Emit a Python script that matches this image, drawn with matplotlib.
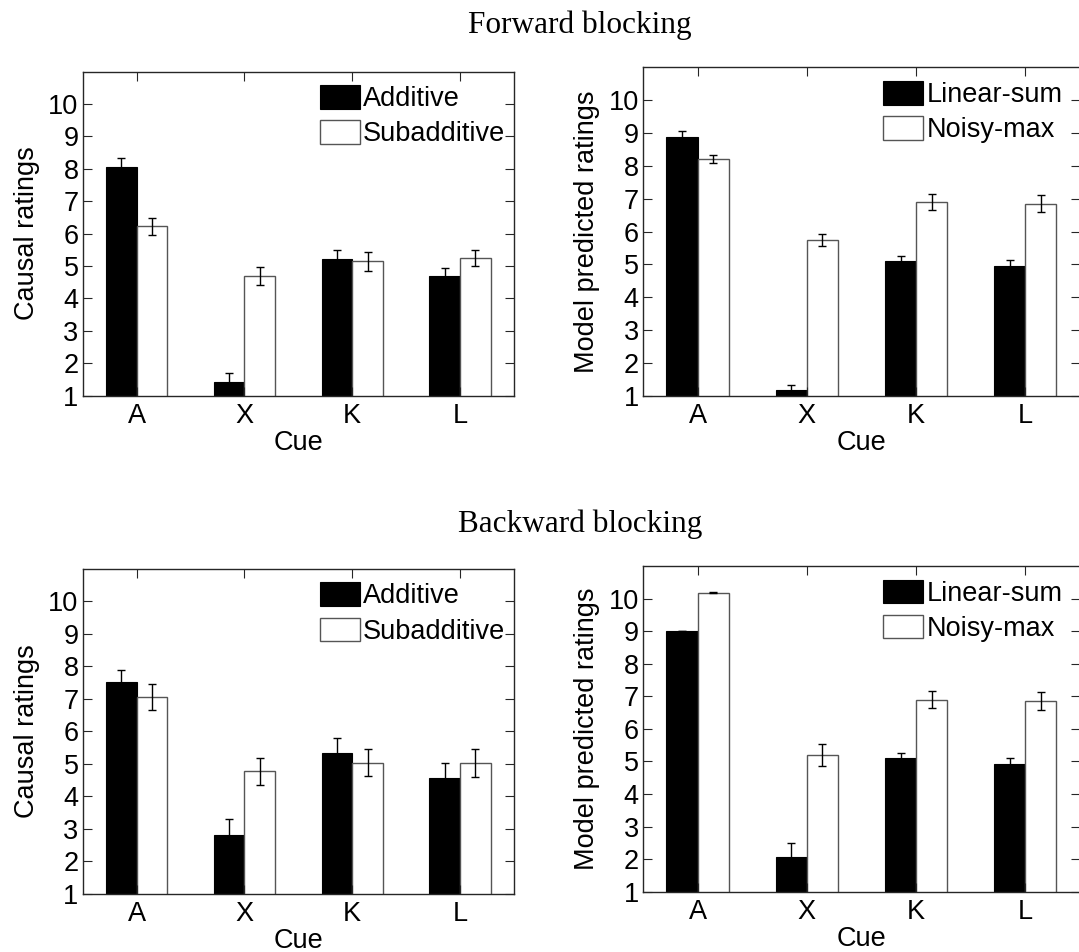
import numpy as np
import matplotlib
matplotlib.use("Agg")
import matplotlib.pyplot as plt

plt.rcParams['font.family'] = ['Liberation Sans', 'DejaVu Sans']

cues = ['A', 'X', 'K', 'L']

# forward blocking: human causal ratings
fwd_add = [8.05, 1.43, 5.23, 4.68]
fwd_add_err = [0.28, 0.28, 0.25, 0.25]
fwd_sub = [6.22, 4.70, 5.14, 5.25]
fwd_sub_err = [0.25, 0.28, 0.28, 0.25]

# forward blocking: model predictions
fwd_lin = [8.88, 1.16, 5.09, 4.94]
fwd_lin_err = [0.19, 0.18, 0.17, 0.19]
fwd_nmax = [8.20, 5.74, 6.90, 6.85]
fwd_nmax_err = [0.12, 0.18, 0.25, 0.27]

# backward blocking: human causal ratings
bwd_add = [7.51, 2.80, 5.33, 4.56]
bwd_add_err = [0.39, 0.52, 0.46, 0.48]
bwd_sub = [7.07, 4.77, 5.04, 5.04]
bwd_sub_err = [0.40, 0.41, 0.41, 0.43]

# backward blocking: model predictions
bwd_lin = [9.00, 2.06, 5.10, 4.93]
bwd_lin_err = [0.0, 0.43, 0.17, 0.19]
bwd_nmax = [10.18, 5.20, 6.90, 6.85]
bwd_nmax_err = [0.01, 0.34, 0.25, 0.28]

FS = 19.5
AX_COL = '#262626'


def bar_panel(ax, v1, e1, v2, e2, labels, ylabel):
    x = np.arange(1, len(cues) + 1)
    w = 0.285
    ax.bar(x - w / 2, v1, w, color='black', edgecolor='black', linewidth=0.8, label=labels[0])
    ax.bar(x + w / 2, v2, w, color='white', edgecolor='#555555', linewidth=1.0, label=labels[1])
    ekw = dict(fmt='none', ecolor='black', elinewidth=1.0, capsize=2.6, capthick=1.0)
    ax.errorbar(x - w / 2, v1, yerr=e1, **ekw)
    ax.errorbar(x + w / 2, v2, yerr=e2, **ekw)

    ax.set_xlim(0.5, 4.5)
    ax.set_ylim(1, 11)
    ax.set_xticks(x)
    ax.set_xticklabels(cues)
    ax.set_yticks(range(1, 11))
    ax.tick_params(direction='in', length=6.5, width=0.8, color=AX_COL,
                   top=True, right=True, labelsize=FS)
    ax.tick_params(axis='x', pad=5)
    ax.tick_params(axis='y', pad=3)
    for s in ax.spines.values():
        s.set_color(AX_COL)
        s.set_linewidth(1.0)

    ax.set_xlabel('Cue', fontsize=FS)
    ax.set_ylabel(ylabel, fontsize=FS)
    ax.xaxis.label.set_va('center')
    ax.yaxis.label.set_va('center')
    ax.xaxis.set_label_coords(0.5, -0.145)
    ax.yaxis.set_label_coords(-56 / (ax.get_position().width * 1079), 0.5)

    ax.legend(loc='upper left', bbox_to_anchor=(0.55, 0.958), frameon=False,
              fontsize=FS, borderpad=0, borderaxespad=0, handlelength=1.48,
              handleheight=0.96, handletextpad=0.12, labelspacing=0.3)


fig = plt.figure(figsize=(10.79, 9.52), dpi=100)

ax1 = fig.add_axes([0.0766, 0.5845, 0.3998, 0.3403])
ax2 = fig.add_axes([0.5959, 0.5843, 0.405, 0.345])
ax3 = fig.add_axes([0.0766, 0.0609, 0.3998, 0.3417])
ax4 = fig.add_axes([0.5959, 0.0633, 0.405, 0.3421])

bar_panel(ax1, fwd_add, fwd_add_err, fwd_sub, fwd_sub_err,
          ['Additive', 'Subadditive'], 'Causal ratings')
bar_panel(ax2, fwd_lin, fwd_lin_err, fwd_nmax, fwd_nmax_err,
          ['Linear-sum', 'Noisy-max'], 'Model predicted ratings')
bar_panel(ax3, bwd_add, bwd_add_err, bwd_sub, bwd_sub_err,
          ['Additive', 'Subadditive'], 'Causal ratings')
bar_panel(ax4, bwd_lin, bwd_lin_err, bwd_nmax, bwd_nmax_err,
          ['Linear-sum', 'Noisy-max'], 'Model predicted ratings')

fig.text(580 / 1079, 1 - 33 / 952, 'Forward blocking', ha='center', va='baseline',
         family='Liberation Serif', fontsize=22.5)
fig.text(580 / 1079, 1 - 532 / 952, 'Backward blocking', ha='center', va='baseline',
         family='Liberation Serif', fontsize=22.5)

fig.savefig('out.png', dpi=100)
